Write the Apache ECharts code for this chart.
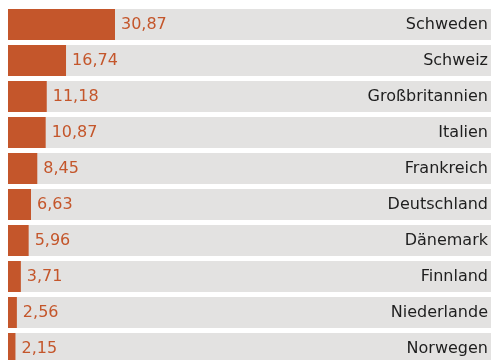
<!DOCTYPE html>
<html>
<head>
<meta charset="utf-8">
<script src="https://cdn.jsdelivr.net/npm/echarts@6/dist/echarts.min.js"></script>
<style>
  html, body { margin: 0; padding: 0; background: #ffffff; overflow: hidden; }
  /* the last row runs past the lower edge of the view */
  #chart { width: 492px; height: 367px; }
</style>
</head>
<body>
<div id="chart"></div>
<script>
// Länder, von oben nach unten
const countries = ['Schweden', 'Schweiz', 'Großbritannien', 'Italien', 'Frankreich',
                   'Deutschland', 'Dänemark', 'Finnland', 'Niederlande', 'Norwegen'];
// Werte je Land
const values = [30.87, 16.74, 11.18, 10.87, 8.45, 6.63, 5.96, 3.71, 2.56, 2.15];

const orange = '#c4562b';
const font = 'DejaVu Sans';

const chart = echarts.init(document.getElementById('chart'), null, { renderer: 'canvas' });
chart.setOption({
  animation: false,
  grid: { left: 8, right: 1, top: 6.5, bottom: 0.5, containLabel: false },
  xAxis: {
    type: 'value', min: 0, max: 139.35,
    show: false
  },
  yAxis: {
    type: 'category',
    data: countries,
    inverse: true,
    position: 'right',
    axisLine: { show: false },
    axisTick: { show: false },
    splitLine: { show: false },
    axisLabel: {
      inside: true,
      margin: 3,
      color: '#1e1e1e',
      fontFamily: font,
      fontSize: 16
    },
    z: 10
  },
  series: [{
    type: 'bar',
    data: values,
    barWidth: 31,
    showBackground: true,
    backgroundStyle: { color: '#e3e2e1' },
    itemStyle: { color: orange },
    label: {
      show: true,
      position: 'right',
      distance: 6,
      color: orange,
      fontFamily: font,
      fontSize: 16,
      formatter: p => p.value.toFixed(2).replace('.', ',')
    }
  }]
});
</script>
</body>
</html>
